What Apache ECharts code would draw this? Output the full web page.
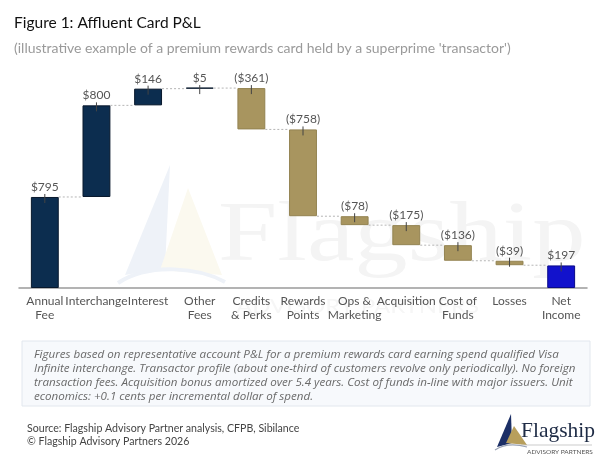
<!DOCTYPE html>
<html>
<head>
<meta charset="utf-8">
<script src="https://cdn.jsdelivr.net/npm/echarts@6/dist/echarts.min.js"></script>
<style>
  html, body { margin: 0; padding: 0; background: #fff; }
  #chart { width: 600px; height: 462px; }
</style>
</head>
<body>
<div id="chart"></div>
<script>
// waterfall data, $ per account per year
const categories = [
  "Annual\nFee", "Interchange", "Interest", "Other\nFees", "Credits\n& Perks",
  "Rewards\nPoints", "Ops &\nMarketing", "Acquisition", "Cost of\nFunds", "Losses", "Net\nIncome",
];
const values = [795, 800, 146, 5, -361, -758, -78, -175, -136, -39, 197];
const valueLabels = ["$795", "$800", "$146", "$5", "($361)", "($758)", "($78)", "($175)", "($136)", "($39)", "$197"];

const NAVY = "#0c2d4f";
const TAN = "#a8955f";
const BLUE = "#1212cc";
const FONT = "Lato, 'Noto Sans', sans-serif";

// build stacked base / visible height, and running totals
const base = [];
const height = [];
const tops = [];
const levels = [];
let running = 0;
values.forEach((v, i) => {
  const last = i === values.length - 1;
  if (last) {
    base.push(0);
    height.push(v);
    tops.push(v);
    return;
  }
  const start = running;
  const end = running + v;
  base.push(Math.min(start, end));
  height.push(Math.abs(v));
  tops.push(Math.max(start, end));
  running = end;
  levels.push([i, end]);
});

function barColor(i) {
  if (i === values.length - 1) return { color: BLUE, borderColor: "#0a0a8a" };
  if (values[i] < 0) return { color: TAN, borderColor: "#938351" };
  return { color: NAVY, borderColor: "#08182c" };
}

const chart = echarts.init(document.getElementById("chart"));

chart.setOption({
  animation: false,
  textStyle: { fontFamily: FONT },
  title: [
    {
      text: "Figure 1: Affluent Card P&L",
      left: 9,
      top: 10,
      textStyle: { fontFamily: FONT, fontSize: 15.5, fontWeight: "normal", color: "#111" },
    },
    {
      text: "(illustrative example of a premium rewards card held by a superprime 'transactor')",
      left: 9,
      top: 36,
      textStyle: { fontFamily: FONT, fontSize: 14, fontWeight: "normal", color: "#9a9a9a" },
    },
  ],
  grid: { left: 19, right: 13, top: 59, bottom: 174 },
  xAxis: {
    type: "category",
    data: categories,
    axisTick: { show: false },
    axisLine: { lineStyle: { color: "#9a9a9a", width: 1.5 } },
    axisLabel: {
      interval: 0,
      color: "#555",
      fontSize: 12,
      lineHeight: 14,
      margin: 6,
      fontFamily: FONT,
    },
  },
  yAxis: {
    type: "value",
    min: 0,
    max: 2000,
    show: false,
  },
  graphic: [
    // faint watermark behind the bars
    {
      type: "polygon",
      z: -10,
      shape: { points: [[170, 165], [125, 275], [165, 268]] },
      style: { fill: "#eef2f8" },
    },
    {
      type: "polygon",
      z: -10,
      shape: { points: [[188, 188], [160, 270], [222, 275]] },
      style: { fill: "#fbf9ef" },
    },
    {
      type: "bezierCurve",
      z: -10,
      shape: { x1: 118, y1: 283, x2: 225, y2: 282, cpx1: 150, cpy1: 262, cpx2: 200, cpy2: 268 },
      style: { stroke: "#eef2f8", lineWidth: 4, fill: null },
    },
    {
      type: "text",
      z: -10,
      x: 218,
      y: 196,
      scaleX: 1.27,
      style: { text: "Flagship", font: "84px 'Liberation Serif', serif", fill: "#f4f4f4" },
    },
    {
      type: "text",
      z: -10,
      x: 236,
      y: 297,
      scaleX: 1.2,
      style: { text: "ADVISORY PARTNERS", font: "20px " + FONT, fill: "#f6f6f6" },
    },
    // footnote box
    {
      type: "rect",
      shape: { x: 22, y: 341, width: 568, height: 65 },
      style: { fill: "#f7f9fc", stroke: "#e2e7ee", lineWidth: 1 },
    },
    {
      type: "text",
      left: 34,
      top: 348,
      style: {
        text:
          "Figures based on representative account P&L for a premium rewards card earning spend qualified Visa\n" +
          "Infinite interchange. Transactor profile (about one-third of customers revolve only periodically). No foreign\n" +
          "transaction fees. Acquisition bonus amortized over 5.4 years. Cost of funds in-line with major issuers. Unit\n" +
          "economics: +0.1 cents per incremental dollar of spend.",
        font: "italic 11.6px 'Open Sans', sans-serif",
        lineHeight: 14,
        fill: "#6a6a6a",
      },
    },
    // source lines
    {
      type: "text",
      left: 27,
      top: 422,
      style: {
        text: "Source: Flagship Advisory Partner analysis, CFPB, Sibilance\n\u00a9 Flagship Advisory Partners 2026",
        font: "10.6px " + FONT,
        lineHeight: 13,
        fill: "#444",
      },
    },
    // logo
    {
      type: "polygon",
      shape: { points: [[511, 414], [497, 447], [512, 443]] },
      style: { fill: "#1c2f66" },
    },
    {
      type: "polygon",
      shape: { points: [[514, 426], [506, 443], [527, 445]] },
      style: { fill: "#b89f5c" },
    },
    {
      type: "bezierCurve",
      shape: { x1: 495, y1: 450, x2: 527, y2: 447, cpx1: 504, cpy1: 444, cpx2: 516, cpy2: 444 },
      style: { stroke: "#9aa3b5", lineWidth: 1.2, fill: null },
    },
    {
      type: "text",
      left: 521,
      top: 420,
      style: { text: "Flagship", font: "21.5px 'Liberation Serif', serif", fill: "#1e2b45" },
    },
    {
      type: "line",
      shape: { x1: 521, y1: 445, x2: 592, y2: 445 },
      style: { stroke: "#aaa", lineWidth: 0.6 },
    },
    {
      type: "text",
      left: 527,
      top: 448,
      style: { text: "ADVISORY PARTNERS", font: "6.5px " + FONT, fill: "#555" },
    },
  ],
  series: [
    {
      type: "bar",
      stack: "wf",
      data: base,
      barWidth: "54%",
      itemStyle: { color: "transparent" },
      silent: true,
    },
    {
      type: "bar",
      stack: "wf",
      barWidth: "54%",
      barMinHeight: 1,
      data: height.map((h, i) => ({
        value: h,
        itemStyle: { ...barColor(i), borderWidth: 1 },
      })),
      label: {
        show: true,
        position: "top",
        distance: 4,
        color: "#555",
        fontSize: 12,
        fontFamily: FONT,
        formatter: (p) => valueLabels[p.dataIndex],
      },
    },
    {
      // dotted connectors between bars
      type: "custom",
      data: levels,
      silent: true,
      z: 1,
      renderItem: (params, api) => {
        const p = api.coord([api.value(0), api.value(1)]);
        const bw = api.size([1, 0])[0];
        const half = (bw * 0.54) / 2;
        return {
          type: "line",
          shape: { x1: p[0] + half, y1: p[1], x2: p[0] + bw - half, y2: p[1] },
          style: { stroke: "#b5b5b5", lineWidth: 1, lineDash: [2, 2] },
        };
      },
    },
    {
      // little tick at the top of each bar
      type: "custom",
      data: tops.map((t, i) => [i, t]),
      silent: true,
      z: 5,
      renderItem: (params, api) => {
        const p = api.coord([api.value(0), api.value(1)]);
        return {
          type: "line",
          shape: { x1: p[0], y1: p[1] - 3, x2: p[0], y2: p[1] + 6 },
          style: { stroke: "#444", lineWidth: 1 },
        };
      },
    },
  ],
});
</script>
</body>
</html>
